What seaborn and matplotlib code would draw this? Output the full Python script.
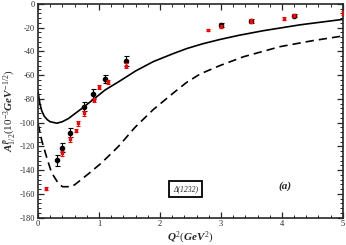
import numpy as np
import pandas as pd
import matplotlib
matplotlib.use("Agg")
import matplotlib.pyplot as plt
import seaborn as sns
from matplotlib.ticker import MultipleLocator

# ---- data ----
solid_q2 = [0.0, 0.03, 0.06, 0.1, 0.15, 0.2, 0.31, 0.4, 0.5, 0.72, 0.93, 1.1, 1.34, 1.6, 1.89, 2.22, 2.44, 2.7, 2.98, 3.28, 3.69, 4.3, 5.0]
solid_a = [-74, -84, -90, -94.5, -97.5, -99.3, -100.5, -99.2, -96.5, -88, -79.5, -72.5, -65, -56.5, -48.6, -41.8, -37.6, -33.6, -30, -26.6, -22.6, -17.6, -13]

dashed_q2 = [0.0, 0.06, 0.14, 0.22, 0.33, 0.4, 0.55, 0.61, 0.83, 1.04, 1.32, 1.59, 1.89, 2.22, 2.44, 2.66, 2.98, 3.37, 3.97, 4.5, 5.0]
dashed_a = [-101, -115, -129, -142, -151, -154, -154, -152, -143, -134, -120, -104, -89, -75, -66, -59, -52, -44.5, -36, -31, -27]

black_q2 = [0.31, 0.40, 0.52, 0.75, 0.90, 1.10, 1.45, 3.0, 3.5, 4.2]
black_a = [-131.8, -121, -108.5, -86.6, -76, -63, -48, -17.7, -14.3, -9.9]
black_err = [4.5, 4, 4, 4, 4, 3.5, 4, 2, 1.5, 1.5]

red_q2 = [0.13, 0.40, 0.52, 0.62, 0.65, 0.75, 0.91, 1.0, 1.15, 1.45, 2.78, 3.0, 3.5, 4.03, 4.2, 5.0]
red_a = [-155.7, -126, -114, -107, -100.6, -92.3, -81, -70, -66, -52, -22.2, -19.1, -14.3, -12.4, -9.9, -7.8]
red_err = [1.2, 2, 2, 1.2, 2, 2, 2, 1.5, 1.5, 2, 0.8, 1.5, 1.5, 1.0, 1.5, 1.5]

x_ticks = [0, 1, 2, 3, 4, 5]
y_ticks = [-180, -160, -140, -120, -100, -80, -60, -40, -20, 0]

# ---- style ----
sns.set_style("ticks")
plt.rcParams['font.family'] = ['Liberation Serif', 'DejaVu Serif']
plt.rcParams['mathtext.fontset'] = 'custom'
plt.rcParams['mathtext.rm'] = 'Liberation Serif'
plt.rcParams['mathtext.it'] = 'Liberation Serif:italic:bold'
plt.rcParams['mathtext.bf'] = 'Liberation Serif:bold'
plt.rcParams['axes.unicode_minus'] = False

fig = plt.figure(figsize=(3.46, 2.45), dpi=100)
ax = fig.add_axes([0.110, 0.112, 0.881, 0.872])

df_s = pd.DataFrame({"Q2": solid_q2, "A": solid_a})
df_d = pd.DataFrame({"Q2": dashed_q2, "A": dashed_a})
sns.lineplot(data=df_s, x="Q2", y="A", ax=ax, color="black", lw=1.2, sort=True)
sns.lineplot(data=df_d, x="Q2", y="A", ax=ax, color="black", lw=1.2, sort=True)
ax.lines[-1].set_dashes((5, 3))

ax.errorbar(black_q2, black_a, yerr=black_err, fmt="o", color="black", ms=3,
            elinewidth=0.8, capsize=1.8, capthick=0.8, zorder=4)
ax.errorbar(red_q2, red_a, yerr=red_err, fmt="s", color="#ff0000", ms=1.8,
            elinewidth=0.8, capsize=1.5, capthick=0.8, zorder=5)

ax.set_xlim(0, 5)
ax.set_ylim(-180, 0)
ax.set_xticks(x_ticks)
ax.set_yticks(y_ticks)
ax.xaxis.set_minor_locator(MultipleLocator(0.2))
ax.yaxis.set_minor_locator(MultipleLocator(4))
ax.tick_params(which="both", direction="in", top=True, right=True, labelsize=6, pad=2)
ax.tick_params(which="major", length=4, width=0.9)
ax.tick_params(which="minor", length=2, width=0.7)
for sp in ax.spines.values():
    sp.set_linewidth(1.2)

ax.set_xlabel(r"$Q^{2}(GeV^{2})$", fontsize=8, labelpad=1)
ax.set_ylabel(r"$A^{p}_{1/2}(10^{-3}GeV^{-1/2})$", fontsize=8, labelpad=1)

ax.text(2.42, -155.8, "Δ(1232)", fontsize=5.5, style="italic", ha="center", va="center",
        bbox=dict(boxstyle="square,pad=0.5", fc="white", ec="black", lw=1.3))
ax.text(4.05, -153.5, "(a)", fontsize=8, style="italic", weight="bold", ha="center", va="center")

fig.savefig("out.png", dpi=100)
